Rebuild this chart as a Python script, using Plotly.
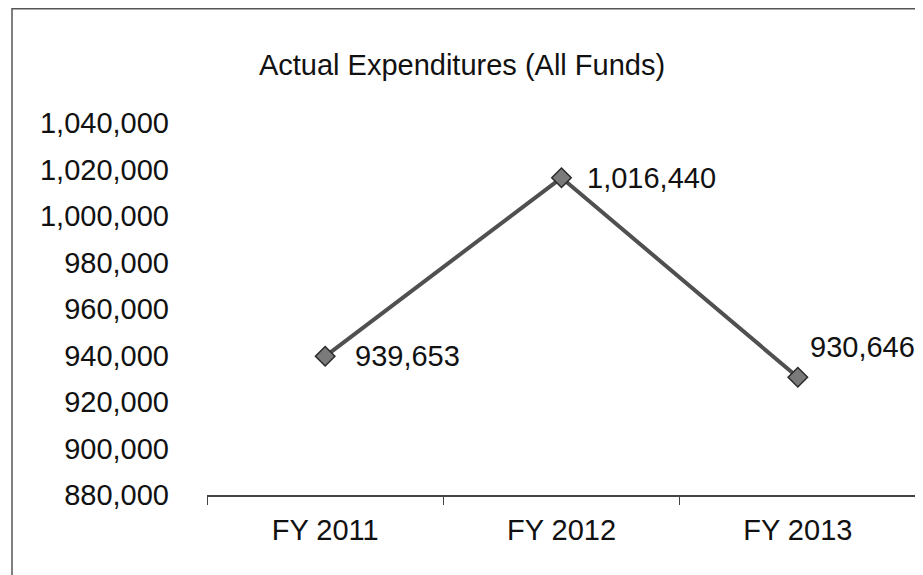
import plotly.graph_objects as go

categories = ["FY 2011", "FY 2012", "FY 2013"]
values = [939653, 1016440, 930646]
value_labels = ["939,653", "1,016,440", "930,646"]
y_ticks = [880000, 900000, 920000, 940000, 960000, 980000, 1000000, 1020000, 1040000]

# page body has an 8px margin, so compensate
OFF = 8
W, H = 923 - OFF, 575 - OFF
L, R, T, B = 207 - OFF, 7, 123 - OFF, 80

fig = go.Figure()
fig.add_trace(go.Scatter(
    x=categories, y=values, mode="lines+markers",
    line=dict(color="#505050", width=4),
    marker=dict(symbol="diamond", size=15, color="#7a7a7a",
                line=dict(color="#2a2a2a", width=1.5)),
    showlegend=False, hoverinfo="skip",
))

offsets = [(28, 0), (23, 0), (10, 30)]
for c, v, t, (dx, dy) in zip(categories, values, value_labels, offsets):
    fig.add_annotation(x=c, y=v, text=t, showarrow=False, xanchor="left",
                       yanchor="middle", xshift=dx, yshift=dy,
                       font=dict(family="Liberation Sans, Arial", size=29, color="#111"))

pw, ph = W - L - R, H - T - B
fig.update_layout(
    width=W, height=H,
    margin=dict(l=L, r=R, t=T, b=B),
    paper_bgcolor="white", plot_bgcolor="white",
    font=dict(family="Liberation Sans, Arial", size=29, color="#111"),
    title=dict(text="Actual Expenditures (All Funds)", x=(462 - OFF) / W, xanchor="center",
               xref="container", y=1 - (65 - OFF) / H, yanchor="middle",
               font=dict(size=29, color="#111")),
    xaxis=dict(
        type="category", range=[-0.5, 2.5], showline=True, linecolor="#444",
        linewidth=1.5, ticks="outside", tickson="boundaries", ticklen=8,
        tickcolor="#444", showgrid=False, zeroline=False,
        ticklabelstandoff=8,
    ),
    yaxis=dict(
        range=[880000, 1040000], tickvals=y_ticks, tickformat=",",
        showline=False, showgrid=False, zeroline=False, ticks="",
        ticklabelstandoff=37,
    ),
    shapes=[
        dict(type="line", xref="paper", yref="paper",
             x0=(12 - OFF - L) / pw, x1=(918 - OFF - L) / pw,
             y0=(H - B - (8 - OFF)) / ph - 0.002, y1=(H - B - (8 - OFF)) / ph - 0.002,
             line=dict(color="#555", width=1.5)),
        dict(type="line", xref="paper", yref="paper",
             x0=(12 - OFF - L) / pw, x1=(12 - OFF - L) / pw,
             y0=(H - B) / ph, y1=-B / ph,
             line=dict(color="#555", width=1.5)),
    ],
)

fig.write_html("out.html")
